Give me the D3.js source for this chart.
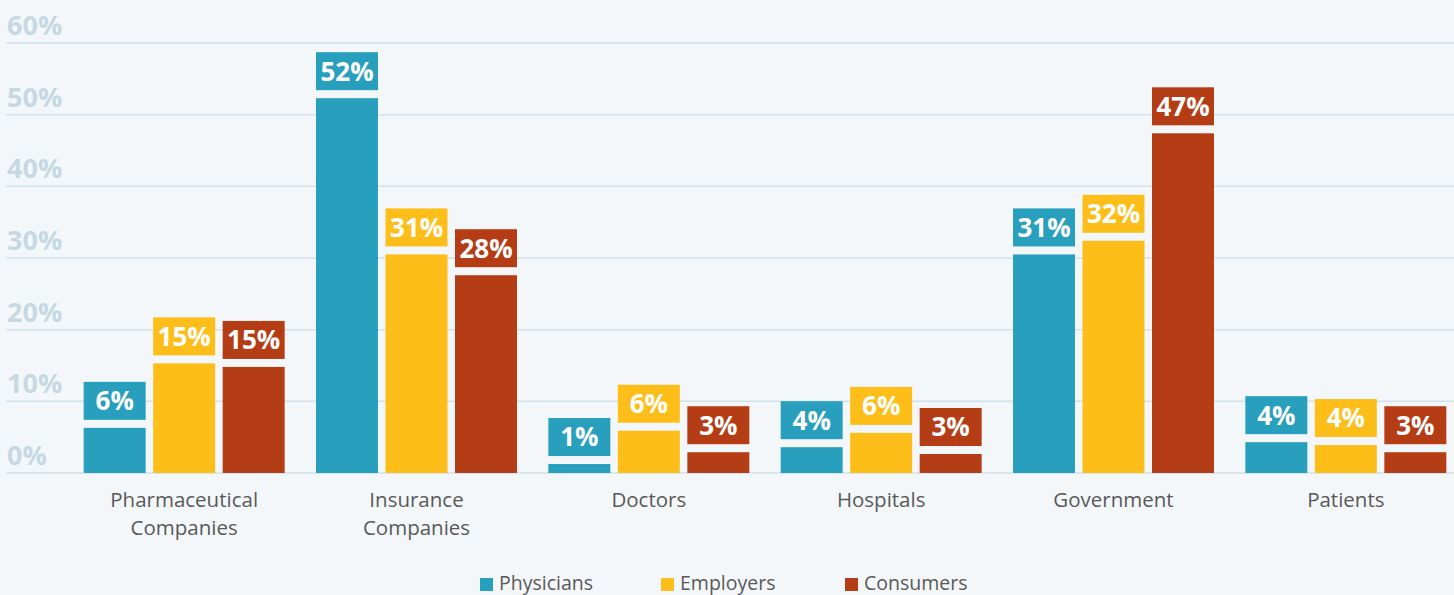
<!DOCTYPE html>
<html><head><meta charset="utf-8">
<script src="https://cdn.jsdelivr.net/npm/d3@7"></script>
<style>
html,body{margin:0;padding:0;background:#f3f7fa;}
svg{display:block;font-family:"Open Sans",sans-serif;}
</style></head>
<body>
<svg id="chart" width="1454" height="595"></svg>
<script>
const categories = [["Pharmaceutical","Companies"],["Insurance","Companies"],["Doctors"],["Hospitals"],["Government"],["Patients"]];
const seriesNames = ["Physicians","Employers","Consumers"];
const physicians = [6.3, 52.3, 1.25, 3.6, 30.5, 4.3];
const employers  = [15.3, 30.5, 5.9, 5.6, 32.4, 3.9];
const consumers  = [14.8, 27.6, 2.9, 2.65, 47.4, 2.9];
const labelsPhysicians = ["6%","52%","1%","4%","31%","4%"];
const labelsEmployers  = ["15%","31%","6%","6%","32%","4%"];
const labelsConsumers  = ["15%","28%","3%","3%","47%","3%"];
const yTicks = [0,10,20,30,40,50,60];
const colors = ["#289fbd","#fdbe19","#b53d16"];

const svg = d3.select("#chart");
const catKeys = categories.map(c => c.join(" "));
const series = [physicians, employers, consumers];
const labels = [labelsPhysicians, labelsEmployers, labelsConsumers];

const y = d3.scaleLinear().domain([0,60]).range([473,43]);
const x0 = d3.scaleBand().domain(catKeys).range([68,1462]).paddingInner(0.135).paddingOuter(0.0675);
const x1 = d3.scaleBand().domain(seriesNames).range([0,x0.bandwidth()]).paddingInner(0.108).paddingOuter(0);
const color = d3.scaleOrdinal().domain(seriesNames).range(colors);

// gridlines
svg.append("g").selectAll("line").data(yTicks).join("line")
  .attr("x1",6).attr("x2",1454)
  .attr("y1",d=>y(d)).attr("y2",d=>y(d))
  .attr("stroke","#d2e1ea").attr("stroke-width",1.5);

// y tick labels
svg.append("g").selectAll("text").data(yTicks).join("text")
  .attr("x",7).attr("y",d=>y(d)-8)
  .attr("font-size",27).attr("font-weight",700)
  .attr("fill","#c6d9e3")
  .text(d=>d+"%");

const data = [];
catKeys.forEach((c,i)=>seriesNames.forEach((s,j)=>data.push({c,s,v:series[j][i],l:labels[j][i]})));

const g = svg.append("g");
g.selectAll("rect.bar").data(data).join("rect").attr("class","bar")
  .attr("x",d=>x0(d.c)+x1(d.s)).attr("width",x1.bandwidth())
  .attr("y",d=>y(d.v)).attr("height",d=>y(0)-y(d.v))
  .attr("fill",d=>color(d.s));

g.selectAll("rect.box").data(data).join("rect").attr("class","box")
  .attr("x",d=>x0(d.c)+x1(d.s)).attr("width",x1.bandwidth())
  .attr("y",d=>y(d.v)-46).attr("height",38)
  .attr("fill",d=>color(d.s));

g.selectAll("text.val").data(data).join("text").attr("class","val")
  .attr("x",d=>x0(d.c)+x1(d.s)+x1.bandwidth()/2)
  .attr("y",d=>y(d.v)-27)
  .attr("dy","0.36em")
  .attr("text-anchor","middle")
  .attr("font-size",26).attr("font-weight",700).attr("fill","#ffffff")
  .text(d=>d.l);

// x labels
const xl = svg.append("g").selectAll("text").data(categories).join("text")
  .attr("text-anchor","middle")
  .attr("font-size",20.5).attr("fill","#595959")
  .attr("x",(d,i)=>x0(catKeys[i])+x0.bandwidth()/2)
  .attr("y",507);
xl.selectAll("tspan").data(d=>d).join("tspan")
  .attr("x",function(){return d3.select(this.parentNode).attr("x");})
  .attr("dy",(d,i)=>i===0?0:28)
  .text(d=>d);

// legend
const legX = [480,661,845];
const leg = svg.append("g").selectAll("g").data(seriesNames).join("g")
  .attr("transform",(d,i)=>`translate(${legX[i]},578)`);
leg.append("rect").attr("width",13).attr("height",13).attr("fill",d=>color(d));
leg.append("text").attr("x",19).attr("y",12).attr("font-size",19.5).attr("fill","#595959").text(d=>d);
</script>
</body></html>
